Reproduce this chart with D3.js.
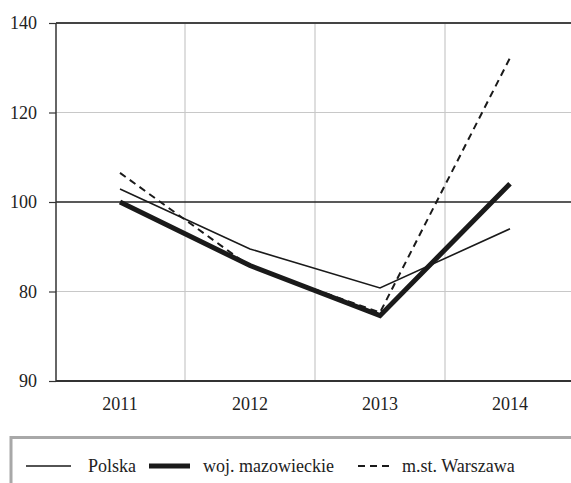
<!DOCTYPE html>
<html>
<head>
<meta charset="utf-8">
<script src="https://cdn.jsdelivr.net/npm/d3@7"></script>
<style>
html,body{margin:0;padding:0;background:#fff;}
svg{display:block;}
svg text{font-family:"Times New Roman","Liberation Serif",Tinos,Times,serif !important;}
</style>
</head>
<body>
<svg id="chart" width="571" height="483"></svg>
<script>
const years = ["2011","2012","2013","2014"];
const polska = [102.9, 89.5, 80.8, 94.0];
const mazowieckie = [100.0, 85.8, 74.6, 104.1];
const warszawa = [106.5, 85.6, 75.3, 132.2];
const yTickValues = [60, 80, 100, 120, 140];
const yTickLabels = ["90", "80", "100", "120", "140"];
const seriesNames = ["Polska", "woj. mazowieckie", "m.st. Warszawa"];

(function () {
const FONT = '"Times New Roman", "Liberation Serif", Tinos, Times, serif';
const svg = d3.select("#chart");
const pLeft = 56, pRight = 575, pTop = 23, pBottom = 381;

const x = d3.scaleBand().domain(years).range([55, 575]);
const y = d3.scaleLinear().domain([60, 140]).range([pBottom, pTop]);
const cx = d => x(d) + x.bandwidth() / 2;

svg.append("g").selectAll("line").data(years.slice(1)).join("line")
  .attr("x1", d => x(d)).attr("x2", d => x(d))
  .attr("y1", pTop).attr("y2", pBottom)
  .attr("stroke", "#bdbdbd").attr("stroke-width", 1);

const yAxis = d3.axisLeft(y).tickValues(yTickValues)
  .tickFormat((d, i) => yTickLabels[i]).tickSize(7).tickPadding(12);
const gy = svg.append("g").attr("transform", `translate(${pLeft},0)`).call(yAxis)
  .attr("font-family", FONT).attr("font-size", 18);
gy.select(".domain").remove();
gy.selectAll(".tick line").attr("stroke", "#333").attr("stroke-width", 1.2);
gy.selectAll(".tick text").attr("fill", "#222").attr("font-family", FONT).attr("font-size", 18);

svg.append("g").selectAll("line").data(yTickValues).join("line")
  .attr("x1", pLeft).attr("x2", pRight)
  .attr("y1", d => y(d)).attr("y2", d => y(d))
  .attr("stroke", d => d === 100 ? "#222" : d === 140 ? "#444" : d === 60 ? "#333" : "#c8c8c8")
  .attr("stroke-width", d => d === 100 ? 1.6 : d === 140 ? 2 : d === 60 ? 2 : 1.2);

svg.append("line").attr("x1", pLeft).attr("x2", pLeft).attr("y1", pTop).attr("y2", pBottom)
  .attr("stroke", "#333").attr("stroke-width", 1.5);

const xAxis = d3.axisBottom(x).tickSize(0).tickPadding(16);
const gx = svg.append("g").attr("transform", `translate(0,${pBottom})`).call(xAxis)
  .attr("font-family", FONT).attr("font-size", 18);
gx.select(".domain").remove();
gx.selectAll(".tick text").attr("fill", "#222").attr("font-family", FONT).attr("font-size", 18);

const line = d3.line().x((d, i) => cx(years[i])).y(d => y(d));

const styles = [
  {data: polska, w: 1.6, dash: null},
  {data: mazowieckie, w: 5, dash: null},
  {data: warszawa, w: 2, dash: "7,5"}
];
styles.forEach(s => {
  svg.append("path").attr("d", line(s.data))
    .attr("fill", "none").attr("stroke", "#1a1a1a")
    .attr("stroke-width", s.w)
    .attr("stroke-dasharray", s.dash)
    .attr("stroke-linejoin", "miter");
});

svg.append("rect").attr("x", 11).attr("y", 437.5).attr("width", 600).attr("height", 80)
  .attr("fill", "none").attr("stroke", "#a8a8a8").attr("stroke-width", 3);

const legendItems = [
  {x1: 26, x2: 71, tx: 88, w: 1.6, dash: null},
  {x1: 149, x2: 190, tx: 203, w: 5, dash: null},
  {x1: 358, x2: 389, tx: 402, w: 2, dash: "7,5"}
];
legendItems.forEach((it, i) => {
  svg.append("line").attr("x1", it.x1).attr("x2", it.x2).attr("y1", 466).attr("y2", 466)
    .attr("stroke", "#1a1a1a").attr("stroke-width", it.w).attr("stroke-dasharray", it.dash);
  svg.append("text").attr("x", it.tx).attr("y", 472)
    .attr("font-size", 18).attr("font-family", FONT).attr("fill", "#222")
    .text(seriesNames[i]);
});
})();
</script>
</body>
</html>
